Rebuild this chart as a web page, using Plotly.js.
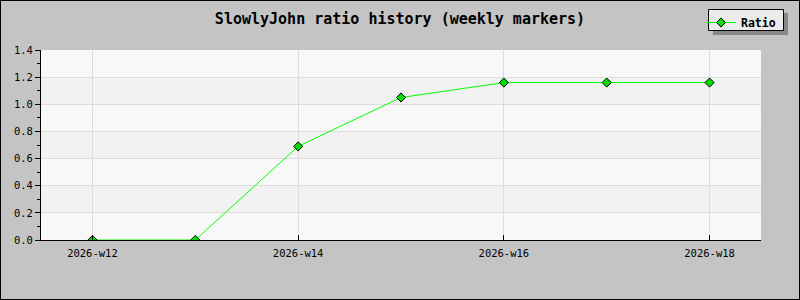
<!DOCTYPE html>
<html>
<head>
<meta charset="utf-8">
<script src="https://cdn.plot.ly/plotly-3.0.1.min.js"></script>
<style>
html,body{margin:0;padding:0;background:#c4c4c4;}
#chart{width:800px;height:300px;box-sizing:border-box;border:1px solid #000;}
</style>
</head>
<body>
<div id="chart"></div>
<script>
const weeks = ['2026-w12','2026-w13','2026-w14','2026-w15','2026-w16','2026-w17','2026-w18'];
const ratio = [0, 0, 0.69, 1.05, 1.16, 1.16, 1.16];
const xTickLabels = ['2026-w12','2026-w14','2026-w16','2026-w18'];
const yTicks = [0, 0.2, 0.4, 0.6, 0.8, 1.0, 1.2, 1.4];

const W = 798, H = 298; // inside border
const L = 40, R = 760, T = 49, B = 239;
const px = x => (x - L) / (R - L);
const py = y => (B - y) / (B - T);

const shapes = [];
for (let i = 0; i < yTicks.length - 1; i++) {
  shapes.push({type:'rect', xref:'paper', yref:'y', x0:0, x1:1, y0:yTicks[i], y1:yTicks[i+1],
    fillcolor: i % 2 === 0 ? '#f8f8f8' : '#f2f2f2', line:{width:0}, layer:'below'});
}
// legend box with shadow
shapes.push({type:'rect', xref:'paper', yref:'paper', x0:px(712), x1:px(787), y0:py(12), y1:py(34),
  fillcolor:'#888888', line:{width:0}, layer:'above'});
shapes.push({type:'rect', xref:'paper', yref:'paper', x0:px(707.5), x1:px(782.5), y0:py(8.5), y1:py(29.5),
  fillcolor:'#ebebeb', line:{color:'#000', width:1}, layer:'above'});

const trace = {
  x: weeks, y: ratio, type:'scatter', mode:'lines+markers', name:'Ratio',
  line:{color:'#00ff00', width:1},
  marker:{symbol:'diamond', size:7, color:'#00dd00', line:{color:'#000', width:1}}
};

const layout = {
  width: W, height: H,
  paper_bgcolor:'#c4c4c4', plot_bgcolor:'#f8f8f8',
  margin:{l:L, r:W-R, t:T, b:H-B, pad:0, autoexpand:false},
  title:{text:'SlowlyJohn ratio history (weekly markers)', x:0.5, xanchor:'center', y:1-(18/H), yanchor:'middle',
    font:{family:'DejaVu Sans Mono, monospace', size:15, color:'#000', weight:'bold'}},
  font:{family:'DejaVu Sans Mono, monospace', size:10, color:'#000'},
  xaxis:{type:'category', range:[-0.5, 6.5], tickmode:'array', tickvals:xTickLabels, ticktext:xTickLabels,
    ticks:'inside', ticklen:5, tickcolor:'#000', showgrid:true, gridcolor:'#dcdcdc', gridwidth:1,
    showline:true, linecolor:'#000', linewidth:1, zeroline:false, fixedrange:true, ticklabelstandoff:3,
    tickfont:{family:'DejaVu Sans Mono, monospace', size:10.5, color:'#000'}},
  yaxis:{range:[0, 1.4], tickmode:'array', tickvals:yTicks, ticktext:yTicks.map(v=>v.toFixed(1)),
    ticks:'outside', ticklen:5, tickcolor:'#000', showgrid:true, gridcolor:'#dcdcdc', gridwidth:1,
    showline:true, linecolor:'#000', linewidth:1, zeroline:false, fixedrange:true,
    minor:{dtick:0.1, ticks:'outside', ticklen:3, tickcolor:'#000', showgrid:false},
    tickfont:{family:'DejaVu Sans Mono, monospace', size:10.5, color:'#000'}},
  showlegend:true,
  legend:{x:px(700), y:py(7), xanchor:'left', yanchor:'top', bgcolor:'rgba(0,0,0,0)', borderwidth:0,
    font:{family:'DejaVu Sans Mono, monospace', size:11.5, color:'#000', weight:'bold'}, itemwidth:30},
  shapes: shapes
};

Plotly.newPlot('chart', [trace], layout, {displayModeBar:false, staticPlot:true});
</script>
</body>
</html>
